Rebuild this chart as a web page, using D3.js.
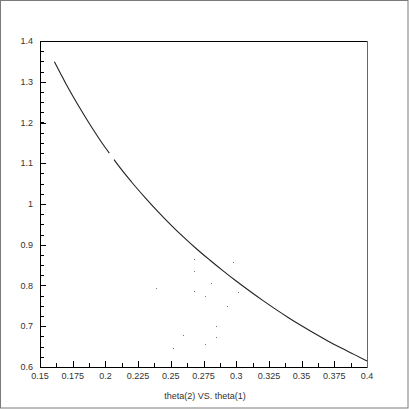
<!DOCTYPE html>
<html>
<head>
<meta charset="utf-8">
<script src="https://cdn.jsdelivr.net/npm/d3@7"></script>
<style>
  body { margin: 0; background: #fff; }
  text { font-family: "Liberation Sans", Arial, sans-serif; }
</style>
</head>
<body>
<script>
// theta(2) vs theta(1) (curve has a small gap near 0.2)
const curveA = [
  [0.161, 1.349], [0.17, 1.294], [0.18, 1.238], [0.19, 1.186],
  [0.20, 1.138], [0.203, 1.125]
];
const curveB = [
  [0.2066, 1.109], [0.21, 1.094], [0.22, 1.054], [0.23, 1.017],
  [0.24, 0.982], [0.25, 0.949], [0.26, 0.918], [0.27, 0.889],
  [0.28, 0.862], [0.29, 0.836], [0.30, 0.811], [0.31, 0.787],
  [0.32, 0.764], [0.33, 0.742], [0.34, 0.721], [0.35, 0.701],
  [0.36, 0.682], [0.37, 0.664], [0.38, 0.647], [0.39, 0.631],
  [0.40, 0.615]
];
const strays = [
  [0.268, 0.865], [0.268, 0.836], [0.2976, 0.858], [0.2807, 0.806],
  [0.268, 0.786], [0.2762, 0.774], [0.3013, 0.784], [0.2930, 0.750],
  [0.2846, 0.701], [0.2846, 0.674], [0.2762, 0.656], [0.2593, 0.679],
  [0.2517, 0.647], [0.2387, 0.794]
];
const xTicks = [0.15, 0.175, 0.2, 0.225, 0.25, 0.275, 0.3, 0.325, 0.35, 0.375, 0.4];
const yTicks = [0.6, 0.7, 0.8, 0.9, 1, 1.1, 1.2, 1.3, 1.4];
const xLabel = 'theta(2) VS. theta(1)';

const W = 409, H = 409;
const m = {left: 40, top: 41, right: 42, bottom: 42};

const svg = d3.select('body').append('svg')
    .attr('width', W)
    .attr('height', H);

svg.append('rect')
    .attr('x', 0.5).attr('y', 0.5)
    .attr('width', W - 1.5).attr('height', H - 1.5)
    .attr('fill', '#fff')
    .attr('stroke', '#7a7a7a');

const x = d3.scaleLinear().domain([0.15, 0.4]).range([m.left, W - m.right]);
const y = d3.scaleLinear().domain([0.6, 1.4]).range([H - m.bottom, m.top]);

// minor ticks
const xMinor = d3.range(0.15, 0.4001, 0.0125);
const yMinor = d3.range(0.6, 1.4001, 0.025);

const g = svg.append('g');

g.selectAll('.xm').data(xMinor).enter().append('line')
    .attr('x1', d => Math.round(x(d)) + 0.5).attr('x2', d => Math.round(x(d)) + 0.5)
    .attr('y1', y(0.6)).attr('y2', y(0.6) - 4)
    .attr('stroke', '#000');
g.selectAll('.xM').data(xTicks).enter().append('line')
    .attr('x1', d => Math.round(x(d)) + 0.5).attr('x2', d => Math.round(x(d)) + 0.5)
    .attr('y1', y(0.6)).attr('y2', y(0.6) - 6)
    .attr('stroke', '#000');
g.selectAll('.ym').data(yMinor).enter().append('line')
    .attr('y1', d => Math.round(y(d)) + 0.5).attr('y2', d => Math.round(y(d)) + 0.5)
    .attr('x1', x(0.15)).attr('x2', x(0.15) + 4)
    .attr('stroke', '#000');
g.selectAll('.yM').data(yTicks).enter().append('line')
    .attr('y1', d => Math.round(y(d)) + 0.5).attr('y2', d => Math.round(y(d)) + 0.5)
    .attr('x1', x(0.15)).attr('x2', x(0.15) + 6)
    .attr('stroke', '#000');

// frame
svg.append('path')
    .attr('d', `M${x(0.4) + 0.5},${y(1.4) + 0.5}H${x(0.15) + 0.5}V${y(0.6) + 0.5}H${x(0.4) + 0.5}`)
    .attr('fill', 'none').attr('stroke', '#000');
svg.append('line')
    .attr('x1', x(0.4) + 0.5).attr('x2', x(0.4) + 0.5)
    .attr('y1', y(1.4)).attr('y2', y(0.6) + 1)
    .attr('stroke', '#666');

// tick labels
g.selectAll('.xl').data(xTicks).enter().append('text')
    .attr('x', d => x(d)).attr('y', y(0.6) + 12)
    .attr('text-anchor', 'middle')
    .attr('font-size', 9).attr('fill', '#333')
    .text(d => d3.format('')(d));
g.selectAll('.yl').data(yTicks).enter().append('text')
    .attr('x', x(0.15) - 7).attr('y', d => y(d) + 3)
    .attr('text-anchor', 'end')
    .attr('font-size', 9).attr('fill', '#333')
    .text(d => d3.format('')(d));

svg.append('text')
    .attr('x', 205).attr('y', 399)
    .attr('text-anchor', 'middle')
    .attr('font-size', 9).attr('fill', '#333')
    .text(xLabel);

// data
const line = d3.line()
    .x(d => x(d[0]))
    .y(d => y(d[1]))
    .curve(d3.curveMonotoneX);

[curveA, curveB].forEach(seg => {
  svg.append('path')
      .datum(seg)
      .attr('d', line)
      .attr('fill', 'none')
      .attr('stroke', '#222')
      .attr('stroke-width', 1.1);
});

svg.selectAll('.dot').data(strays).enter().append('rect')
    .attr('x', d => Math.round(x(d[0])))
    .attr('y', d => Math.round(y(d[1])))
    .attr('width', 1).attr('height', 1)
    .attr('fill', '#777');
</script>
</body>
</html>
